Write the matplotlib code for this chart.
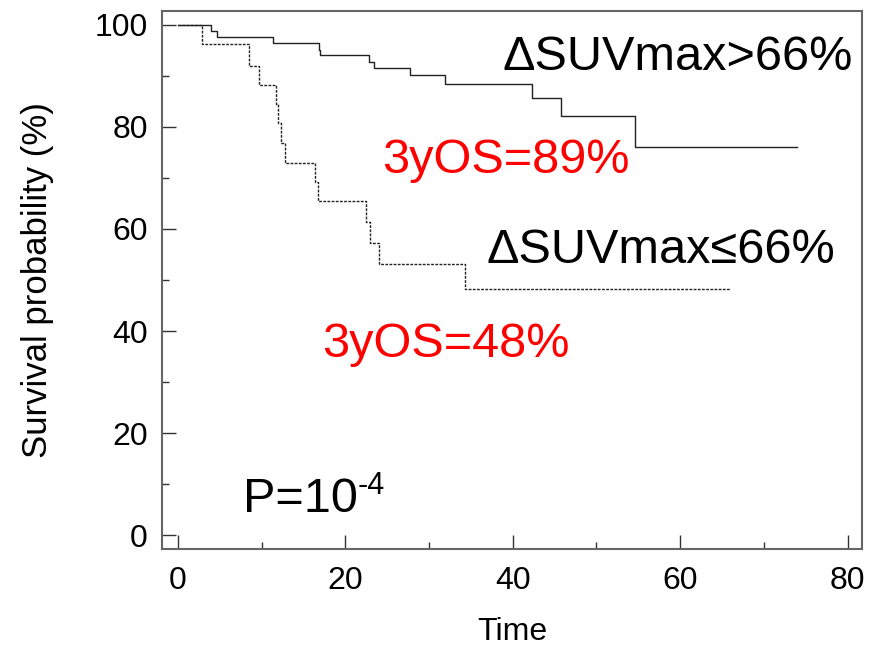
import numpy as np
import matplotlib
matplotlib.use("Agg")
import matplotlib.pyplot as plt
from matplotlib.ticker import MultipleLocator

plt.rcParams['font.family'] = ['Liberation Sans', 'DejaVu Sans']

# Kaplan-Meier steps
t_high = [0, 4.0, 4.7, 11.4, 16.9, 17.0, 22.8, 23.4, 27.7, 31.9, 42.3, 45.8, 54.6, 73.9]
s_high = [100, 98.7, 97.6, 96.5, 95.1, 94.1, 92.8, 91.6, 90.1, 88.4, 85.6, 82.2, 76.1, 76.1]

t_low = [0, 2.9, 8.5, 9.7, 11.7, 12.0, 12.3, 12.8, 16.4, 16.8, 22.5, 22.9, 24.0, 34.3, 65.9]
s_low = [100, 96.2, 92.0, 88.2, 84.5, 80.7, 76.8, 72.9, 69.2, 65.4, 61.3, 57.2, 53.1, 48.2, 48.2]

fig = plt.figure(figsize=(8.75, 6.46), dpi=100)
ax = fig.add_axes([0.185, 0.150, 0.800, 0.833])

ax.step(t_high, s_high, where='post', color='#222222', lw=1.0)
ax.step(t_low, s_low, where='post', color='#222222', lw=1.0, ls=(0, (2, 1)))

ax.set_xlim(-1.9, 81.7)
ax.set_ylim(-2.7, 102.7)
ax.xaxis.set_major_locator(MultipleLocator(20))
ax.xaxis.set_minor_locator(MultipleLocator(10))
ax.yaxis.set_major_locator(MultipleLocator(20))
ax.yaxis.set_minor_locator(MultipleLocator(10))
ax.tick_params(which='both', direction='in', color='#333333', labelsize=23)
ax.tick_params(which='major', length=10, width=1)
ax.tick_params(which='minor', length=5, width=1)
ax.tick_params(axis='x', pad=12)
ax.tick_params(axis='y', pad=10)
for sp in ax.spines.values():
    sp.set_color('#666666')
    sp.set_linewidth(1.5)

ax.set_xlabel('Time', fontsize=23, labelpad=15)
ax.set_ylabel('Survival probability (%)', fontsize=25, va='center')
ax.yaxis.set_label_coords(-0.177, 0.5)

big = 35
ax.text(38.8, 91.2, 'ΔSUVmax>66%', fontsize=big, va='baseline', ha='left')
ax.text(24.4, 70.9, '3yOS=89%', fontsize=big, va='baseline', ha='left', color='red')
ax.text(36.9, 53.3, 'ΔSUVmax≤66%', fontsize=big, va='baseline', ha='left')
ax.text(17.2, 34.9, '3yOS=48%', fontsize=big, va='baseline', ha='left', color='red')
p = ax.text(7.8, 4.6, 'P=10', fontsize=big, va='baseline', ha='left')
ax.annotate('-4', xy=(1, 0.62), xycoords=p, fontsize=22, va='baseline', ha='left')

fig.savefig('out.png', dpi=100)
